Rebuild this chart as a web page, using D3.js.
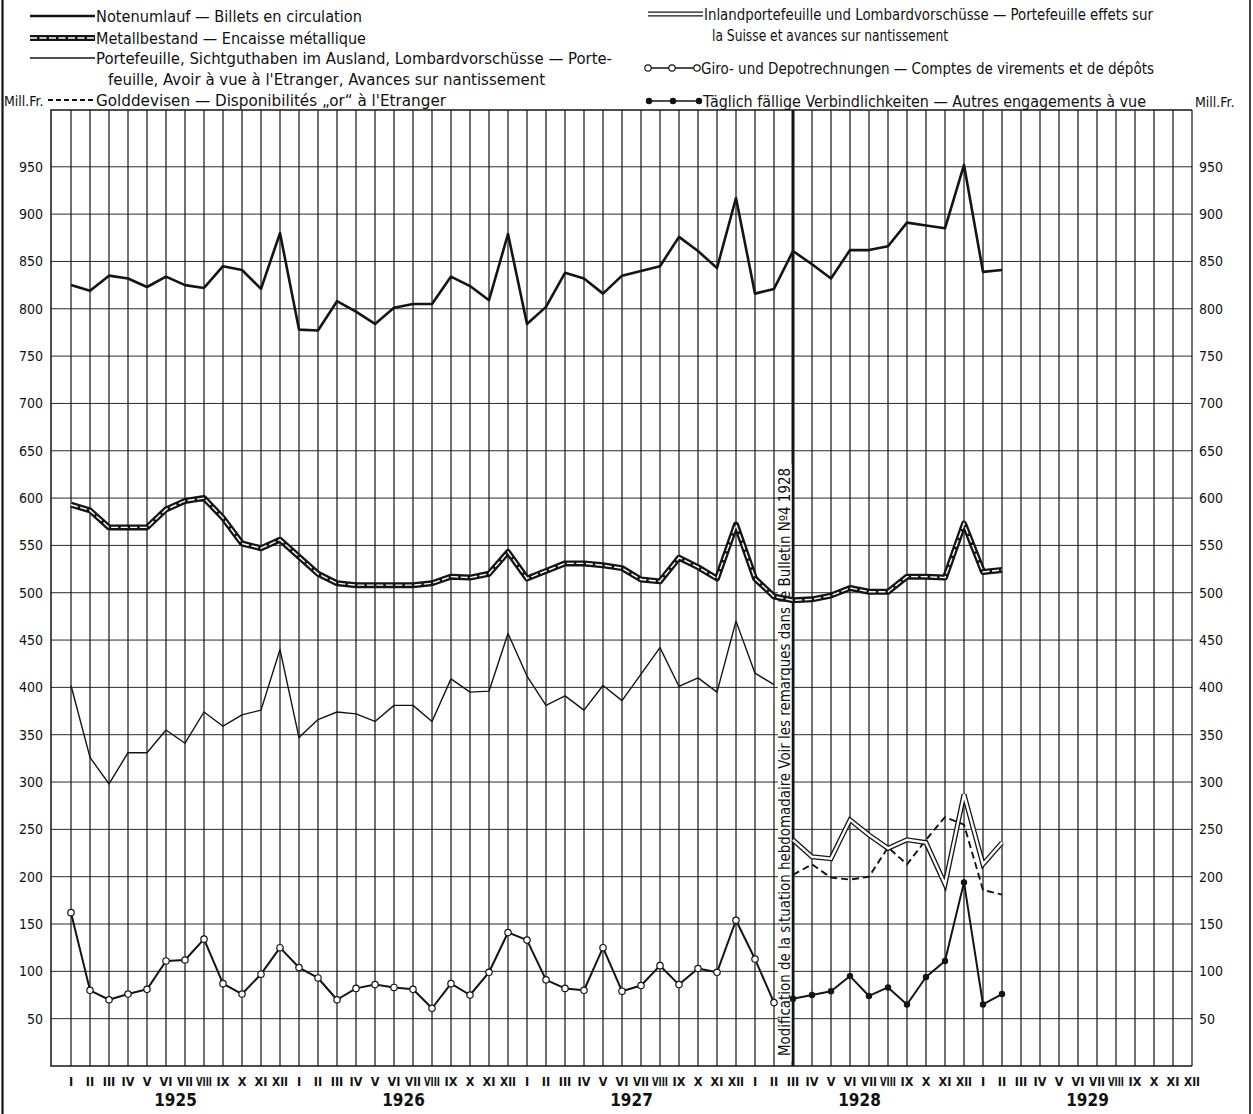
<!DOCTYPE html>
<html>
<head>
<meta charset="utf-8">
<script src="https://cdn.jsdelivr.net/npm/d3@7"></script>
<style>
	body { margin: 0; background: #fff; }
	svg { display: block; }
	text { font-family: "Liberation Sans Narrow", "DejaVu Sans Condensed", "Arial Narrow", sans-serif; fill: #111; }
</style>
</head>
<body>
<svg id="chart" width="1253" height="1114"></svg>
<script>
/*=================================
	DATA (Mill. Fr., monthly)
**===============================*/

var monthLabels = ["I", "II", "III", "IV", "V", "VI", "VII", "VIII", "IX", "X", "XI", "XII"];
var years = ["1925", "1926", "1927", "1928", "1929"];
var yTicks = [50, 100, 150, 200, 250, 300, 350, 400, 450, 500, 550, 600, 650, 700, 750, 800, 850, 900, 950];

//Jan 1925 - Feb 1929
var notenumlauf = [825, 819, 835, 832, 823, 834, 825, 822, 845, 841, 821, 880,
	778, 777, 808, 797, 784, 801, 805, 805, 834, 824, 809, 879,
	784, 802, 838, 832, 816, 835, 840, 845, 876, 861, 843, 917,
	816, 821, 861, 847, 832, 862, 862, 866, 891, 888, 885, 952,
	839, 841];
var metallbestand = [593, 587, 569, 569, 569, 588, 597, 600, 579, 552, 547, 556,
	538, 520, 510, 508, 508, 508, 508, 510, 517, 516, 520, 543,
	515, 523, 531, 531, 529, 526, 514, 512, 537, 527, 515, 572,
	515, 496, 492, 493, 497, 505, 501, 501, 517, 517, 516, 573,
	522, 524];

//Jan 1925 - Feb 1928
var portefeuille = [402, 326, 298, 331, 331, 355, 341, 374, 359, 371, 376, 440,
	347, 366, 374, 372, 364, 381, 381, 364, 409, 395, 396, 457,
	412, 381, 391, 376, 402, 386, 414, 442, 401, 410, 395, 470,
	415, 403];
var giro = [162, 80, 70, 76, 81, 111, 112, 134, 87, 76, 97, 125,
	104, 93, 70, 82, 86, 83, 81, 61, 87, 75, 99, 141,
	133, 91, 82, 80, 125, 79, 85, 106, 86, 103, 99, 154,
	113, 67];

//Mar 1928 - Feb 1929 (new weekly statement)
var golddevisen = [202, 213, 199, 197, 200, 231, 213, 239, 263, 255, 186, 181];
var inlandportefeuille = [239, 221, 219, 260, 244, 230, 239, 236, 192, 287, 213, 236];
var taeglich = [71, 75, 79, 95, 74, 83, 65, 94, 111, 194, 65, 76];

var breakIndex = 38; //Mar 1928

/*=================================
	SCALES
**===============================*/

var svg = d3.select("#chart");
var W = 1253, H = 1114;
var x = d3.scaleLinear().domain([0, 59]).range([71, 1192]);
var y = d3.scaleLinear().domain([0, 1010]).range([1066, 110]);
var plotLeft = 51, plotRight = x(59), plotTop = y(1010), plotBottom = y(0);
var ink = "#141414";

function pts(arr, offset) {
	return arr.map(function (v, i) { return [i + offset, v]; });
}
var line = d3.line().x(function (d) { return x(d[0]); }).y(function (d) { return y(d[1]); });

/*=================================
	FRAME & GRID
**===============================*/

svg.append("line").attr("x1", 2.5).attr("x2", 2.5).attr("y1", 0).attr("y2", H)
	.attr("stroke", ink).attr("stroke-width", 2.2);
svg.append("line").attr("x1", 1250).attr("x2", 1250).attr("y1", 0).attr("y2", H)
	.attr("stroke", ink).attr("stroke-width", 1.6);

svg.append("g").selectAll("line").data(yTicks).join("line")
	.attr("x1", plotLeft).attr("x2", plotRight)
	.attr("y1", function (d) { return y(d); }).attr("y2", function (d) { return y(d); })
	.attr("stroke", "#2a2a2a").attr("stroke-width", 1);

svg.append("g").selectAll("line").data(d3.range(60)).join("line")
	.attr("x1", function (d) { return x(d); }).attr("x2", function (d) { return x(d); })
	.attr("y1", plotTop).attr("y2", plotBottom)
	.attr("stroke", ink)
	.attr("stroke-width", function (d) { return d === breakIndex ? 3 : 1.2; });

//plot border
svg.append("path")
	.attr("d", "M" + plotRight + "," + plotTop + "H" + plotLeft + "V" + plotBottom + "H" + plotRight)
	.attr("fill", "none").attr("stroke", ink).attr("stroke-width", 1.5);

/*=================================
	AXIS TEXT
**===============================*/

var gy = svg.append("g").attr("font-size", 14);
gy.selectAll("text.l").data(yTicks).join("text").attr("class", "l")
	.attr("x", 43).attr("y", function (d) { return y(d) + 5; })
	.attr("text-anchor", "end").text(function (d) { return d; });
gy.selectAll("text.r").data(yTicks).join("text").attr("class", "r")
	.attr("x", 1199).attr("y", function (d) { return y(d) + 5; })
	.text(function (d) { return d; });

svg.append("text").attr("x", 4).attr("y", 106).attr("font-size", 14).text("Mill.Fr.");
svg.append("text").attr("x", 1195).attr("y", 107).attr("font-size", 14).text("Mill.Fr.");

svg.append("g").attr("font-size", 12.5).attr("font-weight", "bold")
	.selectAll("text").data(d3.range(60)).join("text")
	.attr("x", function (d) { return x(d); }).attr("y", 1086)
	.attr("text-anchor", "middle")
	.text(function (d) { return monthLabels[d % 12]; })
	.each(function () {
		//squeeze the long numerals so they fit between the grid lines
		var w = this.getComputedTextLength();
		if (w > 16) d3.select(this).attr("textLength", 16).attr("lengthAdjust", "spacingAndGlyphs");
	});

svg.append("g").attr("font-size", 17).attr("font-weight", "bold").selectAll("text").data(years).join("text")
	.attr("x", function (d, k) { return x(k * 12 + 5.5); }).attr("y", 1106)
	.attr("text-anchor", "middle").text(function (d) { return d; });

//note along the Mar 1928 line
svg.append("rect").attr("x", x(breakIndex) - 15).attr("y", 464).attr("width", 13.5).attr("height", 597)
	.attr("fill", "#fff");
svg.append("text")
	.attr("transform", "translate(" + (x(breakIndex) - 3.5) + ",1056) rotate(-90)")
	.attr("font-size", 16)
	.attr("textLength", 588).attr("lengthAdjust", "spacingAndGlyphs")
	.text("Modification de la situation hebdomadaire Voir les remarques dans le Bulletin N\u00BA4 1928");

/*=================================
	SERIES STYLES
**===============================*/

function drawPlain(g, d, w, dash) {
	g.append("path").attr("d", d).attr("fill", "none").attr("stroke", ink)
		.attr("stroke-width", w).attr("stroke-linejoin", "round")
		.attr("stroke-dasharray", dash || null);
}
function drawRail(g, d) {
	g.append("path").attr("d", d).attr("fill", "none").attr("stroke", ink)
		.attr("stroke-width", 6).attr("stroke-linejoin", "round");
	g.append("path").attr("d", d).attr("fill", "none").attr("stroke", "#fff")
		.attr("stroke-width", 1.4).attr("stroke-dasharray", "7,2.5");
}
function drawDouble(g, d) {
	g.append("path").attr("d", d).attr("fill", "none").attr("stroke", ink)
		.attr("stroke-width", 5).attr("stroke-linejoin", "miter");
	g.append("path").attr("d", d).attr("fill", "none").attr("stroke", "#fff")
		.attr("stroke-width", 2.4).attr("stroke-linejoin", "miter");
}
function drawMarks(g, p, open) {
	g.selectAll("circle").data(p).join("circle")
		.attr("cx", function (d) { return d[0]; }).attr("cy", function (d) { return d[1]; })
		.attr("r", open ? 3.2 : 2.6)
		.attr("fill", open ? "#fff" : ink).attr("stroke", ink).attr("stroke-width", 1.2);
}

var gs = svg.append("g");
drawPlain(gs, line(pts(portefeuille, 0)), 1.4);
drawPlain(gs, line(pts(golddevisen, breakIndex)), 1.9, "7,4");
drawDouble(gs, line(pts(inlandportefeuille, breakIndex)));
drawRail(gs, line(pts(metallbestand, 0)));
drawPlain(gs, line(pts(notenumlauf, 0)), 2.6);
drawPlain(gs, line(pts(giro, 0)), 2);
drawMarks(gs.append("g"), pts(giro, 0).map(function (d) { return [x(d[0]), y(d[1])]; }), true);
drawPlain(gs, line(pts(taeglich, breakIndex)), 2);
drawMarks(gs.append("g"), pts(taeglich, breakIndex).map(function (d) { return [x(d[0]), y(d[1])]; }), false);

/*=================================
	LEGEND
**===============================*/

var lg = svg.append("g").attr("font-size", 16);
function legendText(tx, ty, str, len) {
	lg.append("text").attr("x", tx).attr("y", ty + 5.5)
		.attr("textLength", len).attr("lengthAdjust", "spacingAndGlyphs").text(str);
}

drawPlain(lg, "M30,16H95", 2.4);
legendText(96, 16, "Notenumlauf \u2014 Billets en circulation", 266);
drawRail(lg, "M30,38H95");
legendText(96, 38, "Metallbestand \u2014 Encaisse m\u00E9tallique", 270);
drawPlain(lg, "M30,58H95", 1.4);
legendText(96, 58, "Portefeuille, Sichtguthaben im Ausland, Lombardvorsch\u00FCsse \u2014 Porte-", 516);
legendText(108, 79, "feuille, Avoir \u00E0 vue \u00E0 l'Etranger, Avances sur nantissement", 437);
drawPlain(lg, "M48,100H95", 1.8, "5,3");
legendText(96, 100, "Golddevisen \u2014 Disponibilit\u00E9s \u201Eor\u201C \u00E0 l'Etranger", 350);

drawDouble(lg, "M648,14H703");
legendText(704, 14, "Inlandportefeuille und Lombardvorsch\u00FCsse \u2014 Portefeuille effets sur", 449);
legendText(712, 35, "la Suisse et avances sur nantissement", 236);
drawPlain(lg, "M646,68H698", 1.6);
drawMarks(lg.append("g"), [[648, 68], [672, 68], [697, 68]], true);
legendText(701, 68, "Giro- und Depotrechnungen \u2014 Comptes de virements et de d\u00E9p\u00F4ts", 453);
drawPlain(lg, "M648,101H700", 1.6);
drawMarks(lg.append("g"), [[649, 101], [673, 101], [699, 101]], false);
legendText(703, 101, "T\u00E4glich f\u00E4llige Verbindlichkeiten \u2014 Autres engagements \u00E0 vue", 443);
</script>
</body>
</html>
